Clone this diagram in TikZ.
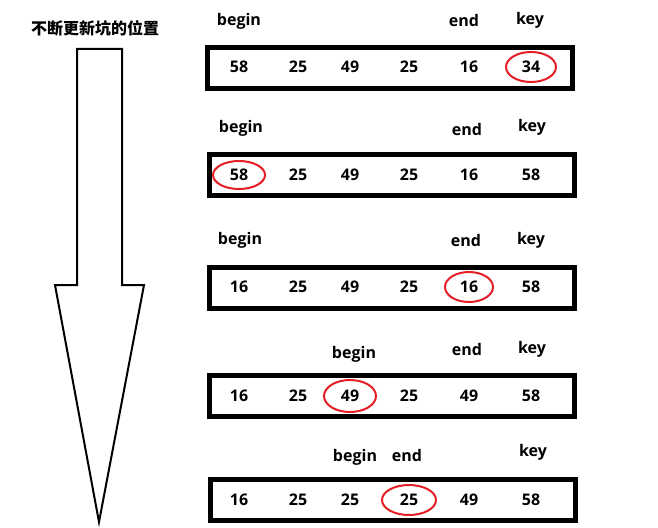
\documentclass[tikz,border=0pt]{standalone}
\usepackage{fontspec}
\setmainfont{Open Sans}
\newfontfamily\cjk{Noto Sans CJK SC}
\usetikzlibrary{positioning}
\definecolor{pitred}{RGB}{228,30,38}

\begin{document}
\begin{tikzpicture}[x=1pt,y=-1pt,
    box/.style={draw,line width=5pt,minimum width=365pt,minimum height=41pt,inner sep=0pt},
    num/.style={font=\fontsize{16}{16}\selectfont\bfseries,inner sep=0pt},
    lbl/.style={font=\fontsize{16}{16}\selectfont\bfseries,inner sep=0pt,anchor=base},
    pit/.style={draw=pitred,line width=2pt}]
    \useasboundingbox (0,0) rectangle (658,527);

    \node[font=\cjk\fontsize{16}{16}\selectfont\bfseries] (title) at (95,28) {不断更新坑的位置};
    \draw[line width=2pt] (77,49) -- (122,49) -- (122,285) -- (144,285) -- (99,522)
        -- (55,285) -- (77,285) -- cycle;

    % the five rows
    \node[box] (row1) at (390,68) {};
    \node[box] (row2) at (392,175) {};
    \node[box] (row3) at (391.5,288) {};
    \node[box] (row4) at (392,396) {};
    \node[box] (row5) at (392.5,500) {};

    \def\colx{{239,298,350,409,469,531}}
    \foreach \r/\y/\vals in {1/67/{58,25,49,25,16,34},2/175/{58,25,49,25,16,58},
        3/287/{16,25,49,25,16,58},4/396/{16,25,49,25,49,58},5/500/{16,25,25,25,49,58}}
        \foreach \v [count=\i] in \vals {
            \pgfmathsetmacro\x{\colx[\i-1]}
            \node[num] (r\r n\i) at (\x,\y) {\v};
        }

    % begin / end / key
    \node[lbl] (begin1) at (239,26) {begin};
    \node[lbl] (end1) at (464,27) {end};
    \node[lbl] (key1) at (530,25) {key};
    \node[lbl] (begin2) at (241,132) {begin};
    \node[lbl] (end2) at (467,135) {end};
    \node[lbl] (key2) at (532,131) {key};
    \node[lbl] (begin3) at (240,244) {begin};
    \node[lbl] (end3) at (466,246) {end};
    \node[lbl] (key3) at (531,244) {key};
    \node[lbl] (begin4) at (354,358) {begin};
    \node[lbl] (end4) at (467,355) {end};
    \node[lbl] (key4) at (532,353) {key};
    \node[lbl] (begin5) at (355,461) {begin};
    \node[lbl] (end5) at (407,461) {end};
    \node[lbl] (key5) at (533,456) {key};

    % the pit
    \draw[pit] (r1n6) ellipse [x radius=25,y radius=15];
    \draw[pit] (r2n1) ellipse [x radius=26,y radius=14];
    \draw[pit] (r3n5) ellipse [x radius=24,y radius=15];
    \draw[pit] (r4n3) ellipse [x radius=26,y radius=16];
    \draw[pit] (r5n4) ellipse [x radius=27,y radius=15];
\end{tikzpicture}
\end{document}
